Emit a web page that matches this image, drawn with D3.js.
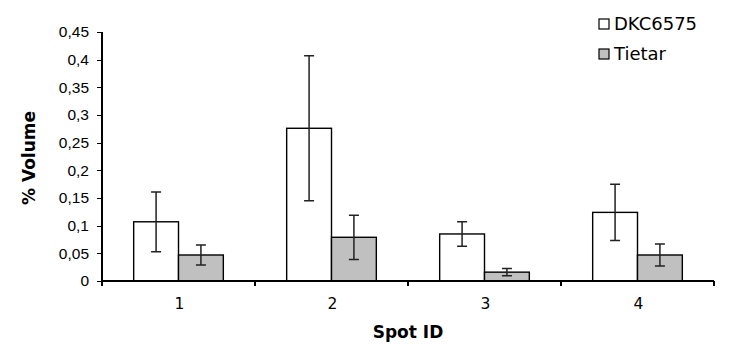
<!DOCTYPE html>
<html>
<head>
<meta charset="utf-8">
<script src="https://cdn.jsdelivr.net/npm/d3@7"></script>
<style>
  body { margin: 0; background: #fff; }
  svg { display: block; font-family: "DejaVu Sans", Verdana, sans-serif; }
  .axis path, .axis line { stroke: #000; stroke-width: 1.2px; shape-rendering: crispEdges; }
  .axis text { fill: #000; }
</style>
</head>
<body>
<div id="chartDiv"></div>
<script>
// values
var spots = ["1", "2", "3", "4"]
var seriesNames = ["DKC6575", "Tietar"]
var dkcValues = [0.107, 0.276, 0.085, 0.124]
var dkcErrors = [0.054, 0.131, 0.022, 0.051]
var tietarValues = [0.047, 0.079, 0.016, 0.047]
var tietarErrors = [0.018, 0.040, 0.0065, 0.020]
var yTicks = [0, 0.05, 0.1, 0.15, 0.2, 0.25, 0.3, 0.35, 0.4, 0.45]
var yTickLabels = ["0", "0,05", "0,1", "0,15", "0,2", "0,25", "0,3", "0,35", "0,4", "0,45"]

var colors = ["#ffffff", "#c0c0c0"]
var margin = {top: 32, right: 17, bottom: 73, left: 102}
var width = 731, height = 354

var svg = d3.select("#chartDiv").append("svg")
  .attr("width", width)
  .attr("height", height)

var plotW = width - margin.left - margin.right,
    plotH = height - margin.top - margin.bottom

var g = svg.append("g")
  .attr("transform", "translate(" + margin.left + "," + margin.top + ")")

var x = d3.scaleBand().domain(spots).range([0, plotW])
var step = x.bandwidth()
// bars fill about 58% of each category, like the excel gap width
var xSub = d3.scaleBand().domain(seriesNames).range([step * 0.207, step * 0.793])
var y = d3.scaleLinear().domain([0, 0.45]).range([plotH, 0])

var data = spots.map(function(s, i){
  return {spot: s, bars: [
    {name: seriesNames[0], value: dkcValues[i], err: dkcErrors[i]},
    {name: seriesNames[1], value: tietarValues[i], err: tietarErrors[i]}
  ]}
})

// y axis
var yAxis = d3.axisLeft(y).tickValues(yTicks).tickSize(5).tickPadding(8)
  .tickFormat(function(d, i){ return yTickLabels[i] })
g.append("g").attr("class", "axis yaxis").call(yAxis)
  .call(function(a){ a.select(".domain").attr("d", "M0," + plotH + "V0") })
  .selectAll("text").style("font-size", "15.5px")

var groups = g.selectAll(".spot").data(data).enter().append("g")
  .attr("class", "spot")
  .attr("transform", function(d){ return "translate(" + x(d.spot) + ",0)" })

var bars = groups.selectAll(".bar").data(function(d){ return d.bars }).enter().append("g")
  .attr("class", "bar")

bars.append("rect")
  .attr("x", function(d){ return xSub(d.name) })
  .attr("y", function(d){ return y(d.value) })
  .attr("width", xSub.bandwidth())
  .attr("height", function(d){ return plotH - y(d.value) })
  .style("fill", function(d, i){ return colors[seriesNames.indexOf(d.name)] })
  .style("stroke", "#000")
  .style("stroke-width", "1.4px")

// error bars
var errPath = function(d){
  var cx = xSub(d.name) + xSub.bandwidth() / 2,
      top = y(d.value + d.err), bot = y(d.value - d.err)
  return "M" + cx + "," + top + "V" + bot +
    "M" + (cx - 5) + "," + top + "H" + (cx + 5) +
    "M" + (cx - 5) + "," + bot + "H" + (cx + 5)
}
bars.append("path")
  .attr("d", errPath)
  .style("fill", "none")
  .style("stroke", "#222")
  .style("stroke-width", "1.5px")

// x axis: ticks between categories
var xAxisG = g.append("g").attr("class", "axis xaxis")
  .attr("transform", "translate(0," + plotH + ")")
xAxisG.append("path").attr("class", "domain").attr("d", "M0,0H" + plotW)
var bounds = spots.map(function(s){ return x(s) }).concat([plotW])
xAxisG.selectAll(".tickmark").data(bounds).enter().append("line")
  .attr("class", "tickmark")
  .attr("x1", function(d){ return d }).attr("x2", function(d){ return d })
  .attr("y1", 0).attr("y2", 5)
xAxisG.selectAll(".ticklabel").data(spots).enter().append("text")
  .attr("class", "ticklabel")
  .attr("x", function(d){ return x(d) + step / 2 + 1 })
  .attr("y", 28)
  .attr("text-anchor", "middle")
  .style("font-size", "15.5px")
  .text(function(d){ return d })

// axis titles
svg.append("text")
  .attr("x", 408)
  .attr("y", 338)
  .attr("text-anchor", "middle")
  .style("font-size", "17px").style("font-weight", "bold")
  .text("Spot ID")

svg.append("text")
  .attr("transform", "translate(35,158) rotate(-90)")
  .attr("text-anchor", "middle")
  .style("font-size", "17px").style("font-weight", "bold")
  .text("% Volume")

// legend
var legend = svg.append("g").attr("transform", "translate(599,19)")
var item = legend.selectAll(".item").data(seriesNames).enter().append("g")
  .attr("class", "item")
  .attr("transform", function(d, i){ return "translate(0," + (i * 30) + ")" })
item.append("rect")
  .attr("width", 10).attr("height", 10)
  .style("fill", function(d, i){ return colors[i] })
  .style("stroke", "#000").style("stroke-width", "1.2px")
item.append("text")
  .attr("x", 15).attr("y", 10.5)
  .style("font-size", "18px")
  .text(function(d){ return d })
</script>
</body>
</html>
